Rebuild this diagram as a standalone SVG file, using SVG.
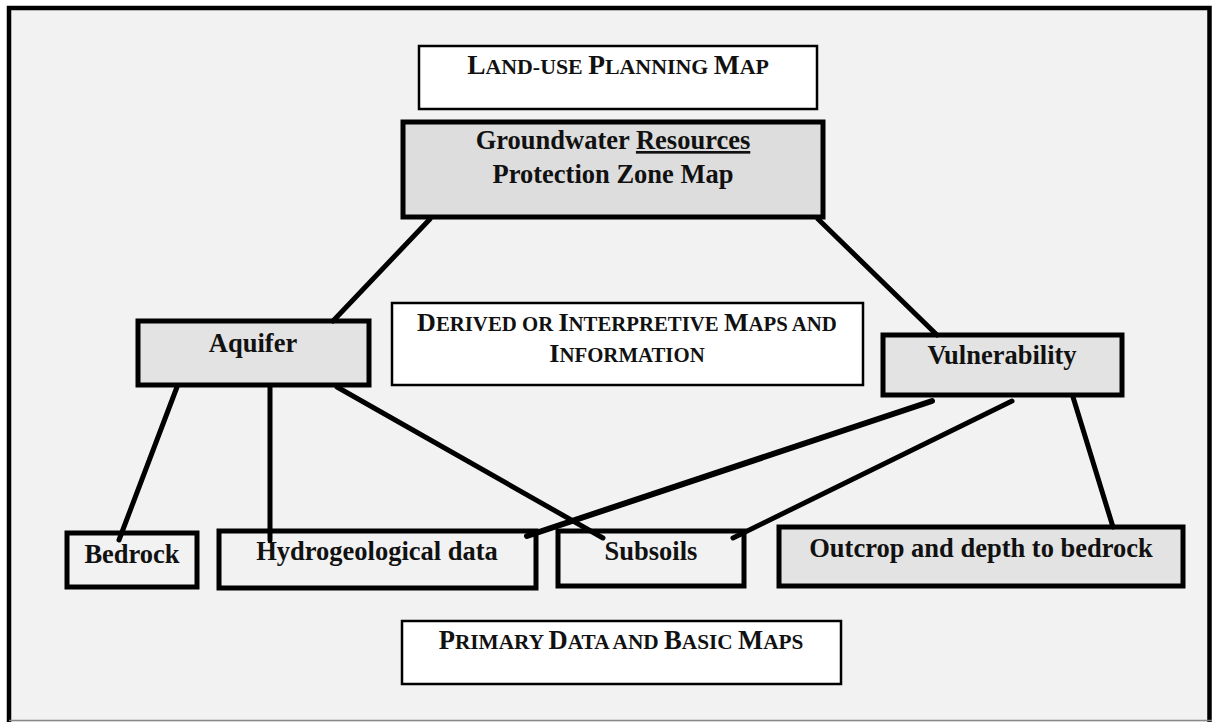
<svg xmlns="http://www.w3.org/2000/svg" width="1212" height="722" viewBox="0 0 1212 722">
<style>
.bg{fill:#f2f2f2}
.thin{fill:#ffffff;stroke:#000;stroke-width:2.5}
.thick{fill:#e3e3e3;stroke:#000;stroke-width:5}
.thickc{fill:#f2f2f2;stroke:#000;stroke-width:5}
.lbl{font-family:"Liberation Serif","Times New Roman",serif;font-weight:bold;font-size:26.5px;fill:#111;text-anchor:middle}
.conn{stroke:#000;stroke-width:5;stroke-linecap:round;fill:none}
</style>
<rect x="0" y="0" width="1212" height="722" fill="#ffffff"/>
<rect class="bg" x="9" y="8" width="1200" height="714"/>
<path d="M9,722 V8 H1209.5 V722" fill="none" stroke="#000" stroke-width="4.5"/>
<line x1="9" y1="720.5" x2="1212" y2="720.5" stroke="#888" stroke-width="1.5"/>

<g id="landuse">
<rect class="thin" x="419" y="46" width="398" height="63"/>
<text class="lbl" x="618" y="74"><tspan font-size="27.4">L</tspan><tspan font-size="21.9">AND-USE </tspan><tspan font-size="27.4">P</tspan><tspan font-size="21.9">LANNING </tspan><tspan font-size="27.4">M</tspan><tspan font-size="21.9">AP</tspan></text>
</g>

<g id="groundwater">
<rect class="thick" style="fill:#dddddd" x="403" y="122" width="420" height="95"/>
<text class="lbl" x="613" y="149">Groundwater <tspan text-decoration="underline">Resources</tspan></text>
<text class="lbl" x="613" y="183">Protection Zone Map</text>
</g>

<g id="aquifer">
<rect class="thick" x="138" y="321" width="231" height="64"/>
<text class="lbl" x="253" y="352">Aquifer</text>
</g>

<g id="derived">
<rect class="thin" x="392" y="303" width="471" height="82"/>
<text class="lbl" x="627" y="331"><tspan font-size="26">D</tspan><tspan font-size="20.8">ERIVED OR </tspan><tspan font-size="26">I</tspan><tspan font-size="20.8">NTERPRETIVE </tspan><tspan font-size="26">M</tspan><tspan font-size="20.8">APS AND</tspan></text>
<text class="lbl" x="627" y="362"><tspan font-size="26">I</tspan><tspan font-size="20.8">NFORMATION</tspan></text>
</g>

<g id="vulnerability">
<rect class="thick" x="883" y="335" width="239" height="60"/>
<text class="lbl" x="1002" y="364">Vulnerability</text>
</g>

<g id="bedrock">
<rect class="thickc" x="67" y="533" width="130" height="54"/>
<text class="lbl" x="132" y="563">Bedrock</text>
</g>

<g id="hydro">
<rect class="thickc" x="219" y="531" width="317" height="57"/>
<text class="lbl" x="377" y="560">Hydrogeological data</text>
</g>

<g id="subsoils">
<rect class="thickc" x="558" y="531" width="186" height="55"/>
<text class="lbl" x="651" y="560">Subsoils</text>
</g>

<g id="outcrop">
<rect class="thick" x="779" y="527" width="404" height="59"/>
<text class="lbl" x="981" y="557">Outcrop and depth to bedrock</text>
</g>

<g id="primary">
<rect class="thin" x="402" y="621" width="439" height="63"/>
<text class="lbl" x="621" y="649"><tspan font-size="26.6">P</tspan><tspan font-size="21.3">RIMARY </tspan><tspan font-size="26.6">D</tspan><tspan font-size="21.3">ATA AND </tspan><tspan font-size="26.6">B</tspan><tspan font-size="21.3">ASIC </tspan><tspan font-size="26.6">M</tspan><tspan font-size="21.3">APS</tspan></text>
</g>

<g id="connectors">
<line class="conn" x1="430" y1="219" x2="333" y2="321"/>
<line class="conn" x1="818" y1="219" x2="937" y2="335"/>
<line class="conn" x1="177" y1="387" x2="119" y2="540"/>
<line class="conn" x1="270" y1="387" x2="270" y2="540"/>
<line class="conn" x1="337" y1="387" x2="603" y2="538"/>
<line class="conn" style="stroke-width:6" x1="932" y1="401" x2="527" y2="536"/>
<line class="conn" x1="1012" y1="401" x2="733" y2="538"/>
<line class="conn" x1="1073" y1="397" x2="1113" y2="527"/>
</g>
</svg>
